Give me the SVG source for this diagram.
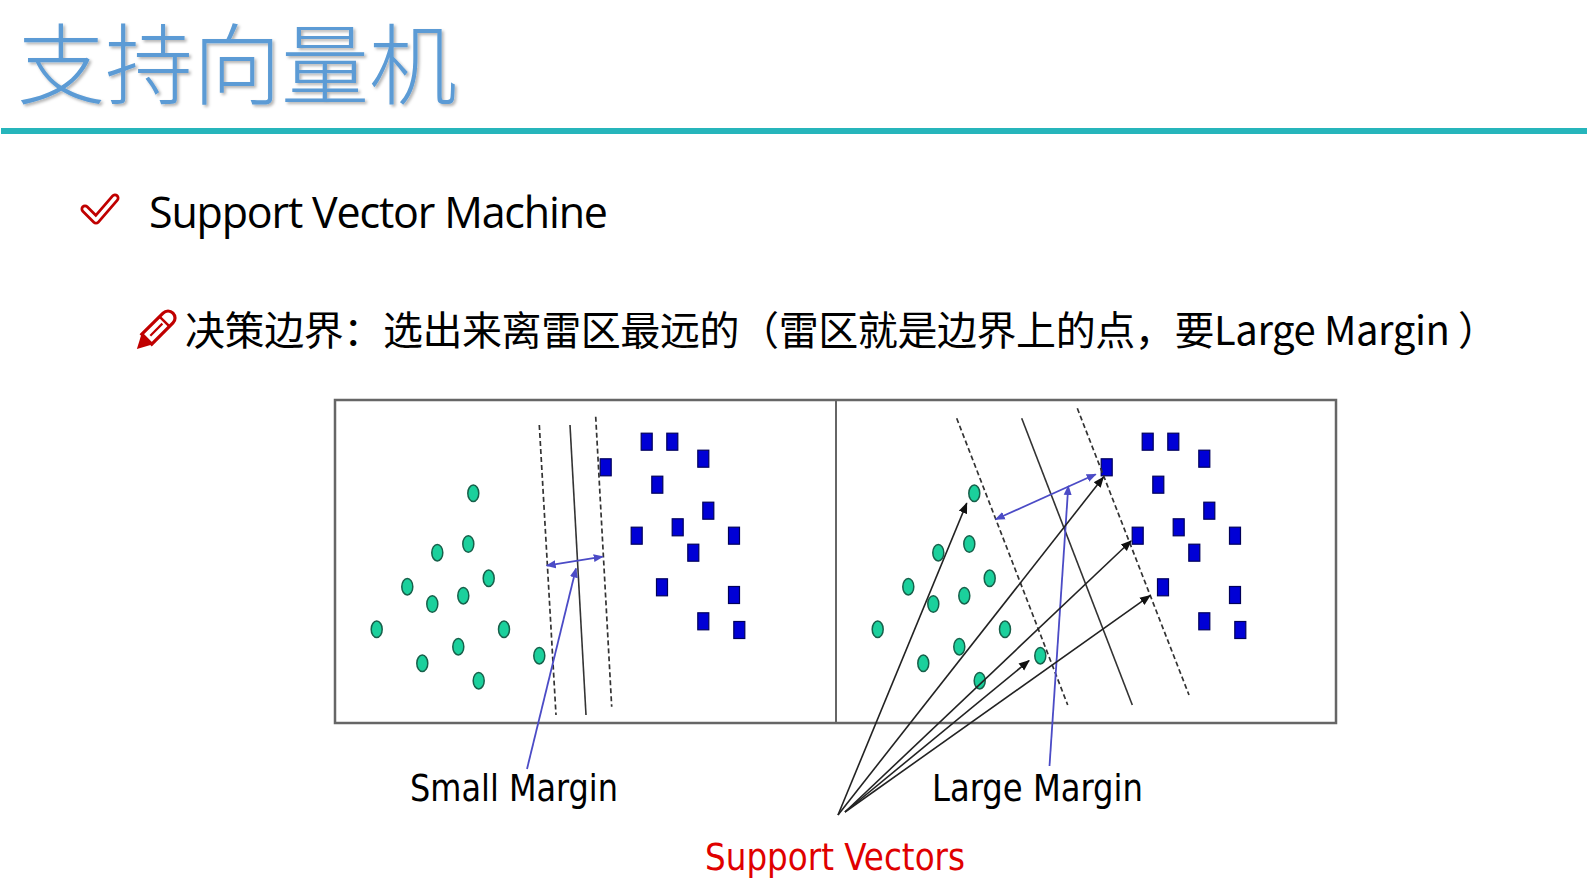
<svg xmlns="http://www.w3.org/2000/svg" width="1587" height="892" viewBox="0 0 1587 892">
<style>
.cjk{font-family:"Noto Sans CJK SC","Noto Sans",sans-serif;}
.lat{font-family:"Open Sans","Noto Sans",sans-serif;}
.lbl{font-family:"DejaVu Sans Condensed","DejaVu Sans",sans-serif;font-size:38px;}
.c{fill:#1bd09c;stroke:#17604a;stroke-width:1.5;}
.s{fill:#0000d6;stroke:#00005a;stroke-width:1.2;}
.dash{stroke:#333;stroke-width:1.7;stroke-dasharray:5 3;fill:none;}
.sol{stroke:#333;stroke-width:1.6;fill:none;}
.blue{stroke:#4b4bc6;stroke-width:1.8;fill:none;}
.blk{stroke:#222;stroke-width:1.6;fill:none;}
</style>
<defs>
<filter id="sh" filterUnits="userSpaceOnUse" x="0" y="0" width="520" height="125"><feDropShadow dx="2" dy="2" stdDeviation="1.5" flood-color="#000" flood-opacity="0.3"/></filter>
<marker id="ab" viewBox="0 0 10 10" refX="9" refY="5" markerWidth="10" markerHeight="10" markerUnits="userSpaceOnUse" orient="auto-start-reverse"><path d="M0,1 L10,5 L0,9 z" fill="#4b4bc6"/></marker>
<marker id="ak" viewBox="0 0 10 10" refX="9" refY="5" markerWidth="11" markerHeight="11" markerUnits="userSpaceOnUse" orient="auto"><path d="M0,1 L10,5 L0,9 z" fill="#111"/></marker>
<ellipse id="dot" cx="0" cy="0" rx="5.5" ry="8.2" class="c"/>
<rect id="sq" x="-5.5" y="-8.5" width="11" height="17" class="s"/>
</defs>
<rect width="1587" height="892" fill="#fff"/>

<g id="title">
<text x="17" y="97" class="cjk" font-size="88" font-weight="300" fill="#5b9bd5" filter="url(#sh)">支持向量机</text>
</g>
<rect id="rule" x="1" y="128" width="1586" height="6" fill="#26b5bb"/>

<g id="bullet1">
<path d="M85,209 L96,220 L115,198" fill="none" stroke="#c00000" stroke-width="9" stroke-linecap="round" stroke-linejoin="round"/>
<path d="M85,209 L96,220 L115,198" fill="none" stroke="#fff" stroke-width="3.5" stroke-linecap="round" stroke-linejoin="round"/>
<text x="149" y="228" class="lat" font-size="43" fill="#000" textLength="459">Support Vector Machine</text>
</g>

<g id="bullet2">
<g transform="translate(156,330) rotate(-45)">
<path d="M-13,-7 L17,-7 A7,7 0 0 1 17,7 L-13,7 Z" fill="#fff" stroke="#c00000" stroke-width="3.2"/>
<line x1="12" y1="-7" x2="12" y2="7" stroke="#c00000" stroke-width="2.5"/>
<line x1="-8" y1="0" x2="9" y2="0" stroke="#c00000" stroke-width="2.2"/>
<path d="M-13,-7.5 L-27,0 L-13,7.5 Z" fill="#c00000"/>
</g>
<text x="185" y="345" class="cjk" font-size="40" fill="#000" textLength="1313">决策边界：选出来离雷区最远的（雷区就是边界上的点，要Large Margin ）</text>
</g>

<g id="frame">
<rect x="335" y="400" width="1001" height="323" fill="none" stroke="#666" stroke-width="2.5"/>
<line x1="836" y1="400" x2="836" y2="723" stroke="#666" stroke-width="2"/>
</g>

<g id="left-points">
<use href="#dot" x="473.3" y="493.3"/><use href="#dot" x="437.3" y="552.7"/><use href="#dot" x="468.3" y="544"/>
<use href="#dot" x="407.3" y="586.7"/><use href="#dot" x="432.3" y="604"/><use href="#dot" x="463.3" y="595.7"/>
<use href="#dot" x="488.7" y="578.3"/><use href="#dot" x="376.7" y="629.3"/><use href="#dot" x="504" y="629.3"/>
<use href="#dot" x="458.3" y="646.7"/><use href="#dot" x="422.3" y="663.3"/><use href="#dot" x="478.7" y="680.7"/>
<use href="#dot" x="539.3" y="655.7"/>
<use href="#sq" x="605.7" y="467.3"/><use href="#sq" x="646.7" y="441.7"/><use href="#sq" x="672.3" y="441.7"/>
<use href="#sq" x="703.3" y="458.7"/><use href="#sq" x="657.3" y="484.7"/><use href="#sq" x="708.3" y="510.7"/>
<use href="#sq" x="636.7" y="535.7"/><use href="#sq" x="677.7" y="527.3"/><use href="#sq" x="734" y="535.7"/>
<use href="#sq" x="693.3" y="552.7"/><use href="#sq" x="662" y="587.3"/><use href="#sq" x="734" y="595"/>
<use href="#sq" x="703.3" y="621.3"/><use href="#sq" x="739.3" y="630"/>
</g>

<g id="right-points" transform="translate(501,0)">
<use href="#dot" x="473.3" y="493.3"/><use href="#dot" x="437.3" y="552.7"/><use href="#dot" x="468.3" y="544"/>
<use href="#dot" x="407.3" y="586.7"/><use href="#dot" x="432.3" y="604"/><use href="#dot" x="463.3" y="595.7"/>
<use href="#dot" x="488.7" y="578.3"/><use href="#dot" x="376.7" y="629.3"/><use href="#dot" x="504" y="629.3"/>
<use href="#dot" x="458.3" y="646.7"/><use href="#dot" x="422.3" y="663.3"/><use href="#dot" x="478.7" y="680.7"/>
<use href="#dot" x="539.3" y="655.7"/>
<use href="#sq" x="605.7" y="467.3"/><use href="#sq" x="646.7" y="441.7"/><use href="#sq" x="672.3" y="441.7"/>
<use href="#sq" x="703.3" y="458.7"/><use href="#sq" x="657.3" y="484.7"/><use href="#sq" x="708.3" y="510.7"/>
<use href="#sq" x="636.7" y="535.7"/><use href="#sq" x="677.7" y="527.3"/><use href="#sq" x="734" y="535.7"/>
<use href="#sq" x="693.3" y="552.7"/><use href="#sq" x="662" y="587.3"/><use href="#sq" x="734" y="595"/>
<use href="#sq" x="703.3" y="621.3"/><use href="#sq" x="739.3" y="630"/>
</g>

<g id="connectors">
<line class="dash" x1="539.3" y1="425" x2="556" y2="715"/>
<line class="sol" x1="570" y1="425" x2="586" y2="715"/>
<line class="dash" x1="595.7" y1="416.7" x2="611.7" y2="706.7"/>
<line class="blue" x1="546.7" y1="565.7" x2="602.7" y2="556.7" marker-start="url(#ab)" marker-end="url(#ab)"/>
<line class="blue" x1="527" y1="769" x2="576" y2="568.5" marker-end="url(#ab)"/>

<line class="dash" x1="956.7" y1="418.3" x2="1067.7" y2="705"/>
<line class="sol" x1="1021.7" y1="418.3" x2="1132.3" y2="705"/>
<line class="dash" x1="1077.3" y1="408.3" x2="1189" y2="695"/>
<line class="blue" x1="995.7" y1="519.3" x2="1095.7" y2="474.3" marker-start="url(#ab)" marker-end="url(#ab)"/>
<line class="blue" x1="1049.5" y1="766" x2="1068.3" y2="486" marker-end="url(#ab)"/>

<line class="blk" x1="838" y1="815" x2="966.7" y2="503.3" marker-end="url(#ak)"/>
<line class="blk" x1="838" y1="815" x2="1103.3" y2="477.3" marker-end="url(#ak)"/>
<line class="blk" x1="845" y1="812" x2="1131" y2="541" marker-end="url(#ak)"/>
<line class="blk" x1="845" y1="812" x2="1150" y2="595.7" marker-end="url(#ak)"/>
<line class="blk" x1="845" y1="812" x2="1029" y2="660.7" marker-end="url(#ak)"/>
</g>

<g id="labels">
<text x="410" y="801" class="lbl" fill="#000" textLength="208" lengthAdjust="spacingAndGlyphs">Small Margin</text>
<text x="932" y="801" class="lbl" fill="#000" textLength="211" lengthAdjust="spacingAndGlyphs">Large Margin</text>
<text x="705" y="870" class="lbl" fill="#e00000" textLength="260" lengthAdjust="spacingAndGlyphs">Support Vectors</text>
</g>
</svg>
